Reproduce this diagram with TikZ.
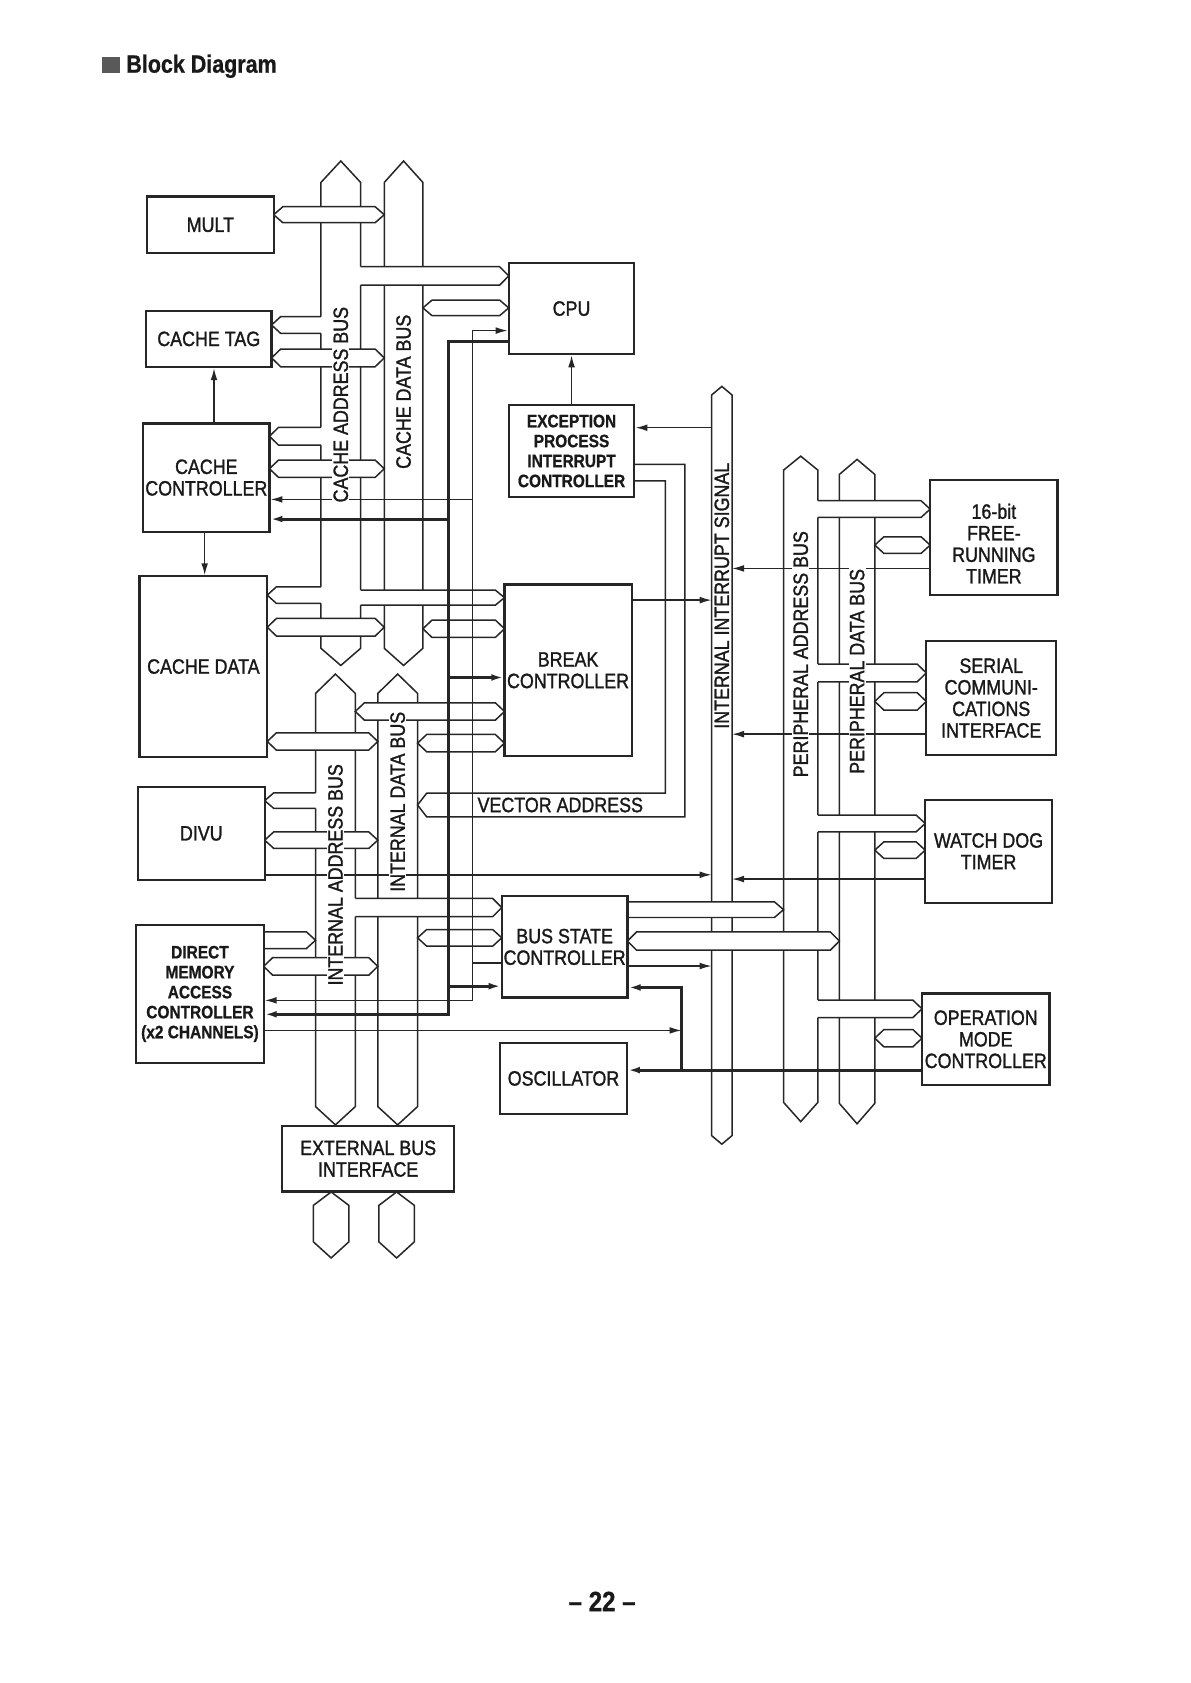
\documentclass[tikz,border=0pt]{standalone}
\usepackage{fontspec}
\setmainfont{Liberation Sans}[FakeStretch=0.86, UprightFeatures={FakeBold=1.3}, BoldFeatures={FakeBold=0.8}]
\usetikzlibrary{arrows.meta,fit}

\tikzset{
  wire/.style={draw=black!85, line width=0.75pt},
  buswall/.style={wire, fill=white},
  sig/.style={draw=black!85, line width=0.75pt},
  bsig/.style={draw=black!85, line width=1.5pt},
  blk/.style={draw=black!85, line width=1.1pt, fill=white, inner sep=0pt},
  blkt/.style={align=center, inner sep=0pt, text=black!90, font=\fontsize{10.4}{10.8}\selectfont},
  blktb/.style={blkt, font=\bfseries\fontsize{9}{10}\selectfont},
  buslbl/.style={rotate=90, fill=white, inner sep=0.6pt, text=black!90,
    font=\fontsize{10.4}{12}\selectfont},
}

\def\tipd{8.5}
% vertical bus: xl, xr, top tip, top shoulder, bottom shoulder, bottom tip
\newcommand{\busv}[6]{%
  \draw[buswall] (#1,#4) -- ({(#1+#2)/2},#3) -- (#2,#4) -- (#2,#5) -- ({(#1+#2)/2},#6) -- (#1,#5) -- cycle;}
% branch, open on the left (bus), tip on the right: x1, x2, ytop, ybottom
\newcommand{\brR}[4]{%
  \fill[white] ({#1-2},#3) -- ({#2-\tipd},#3) -- (#2,{(#3+#4)/2}) -- ({#2-\tipd},#4) -- ({#1-2},#4) -- cycle;
  \draw[wire] (#1,#3) -- ({#2-\tipd},#3) -- (#2,{(#3+#4)/2}) -- ({#2-\tipd},#4) -- (#1,#4);}
% branch, tip on the left, open on the right (bus)
\newcommand{\brL}[4]{%
  \fill[white] (#1,{(#3+#4)/2}) -- ({#1+\tipd},#3) -- ({#2+2},#3) -- ({#2+2},#4) -- ({#1+\tipd},#4) -- cycle;
  \draw[wire] (#2,#3) -- ({#1+\tipd},#3) -- (#1,{(#3+#4)/2}) -- ({#1+\tipd},#4) -- (#2,#4);}
% branch with tips on both ends
\newcommand{\brD}[4]{%
  \draw[wire, fill=white] (#1,{(#3+#4)/2}) -- ({#1+\tipd},#3) -- ({#2-\tipd},#3) -- (#2,{(#3+#4)/2})
    -- ({#2-\tipd},#4) -- ({#1+\tipd},#4) -- cycle;}

\begin{document}
\begin{tikzpicture}[x=0.5376pt, y=-0.5376pt, >={Latex[length=6pt,width=3.4pt]}]
\useasboundingbox (0,0) rectangle (1109,1568);

% title
\node[fill=black!65, inner sep=0pt, minimum width=9.2pt, minimum height=7.7pt] (mark) at (103.3,60.5) {};
\node[anchor=base west, inner sep=0pt, text=black!90, font=\bfseries\fontsize{12.5}{14}\selectfont] (title) at (117.4,67.7) {Block Diagram};

% buses
\busv{299}{336}{150}{170}{604}{620}
\busv{358}{394}{150}{170}{604}{620}
\busv{294}{331}{628}{646}{1031}{1048}
\busv{352}{389}{628}{646}{1031}{1048}
\busv{292}{325}{1110.5}{1123}{1157}{1172}
\busv{353}{386}{1110.5}{1123}{1157}{1172}
\busv{663}{682}{360}{368}{1058}{1066}
\busv{730}{762}{425}{438}{1027}{1045}
\busv{782}{815}{428}{442}{1028}{1047}

% branches, left column
\brD{255}{358}{192.6}{207.5}
\brL{253}{299}{295}{310.6}
\brD{253}{358}{325.2}{341.7}
\brL{251}{299}{398.2}{414.7}
\brD{251}{358}{428.6}{444.8}
\brL{249}{299}{546.7}{562.2}
\brD{249}{358}{576.2}{592.6}
\brD{249}{352}{682.7}{698.9}
\brL{246.6}{294}{738.6}{753.2}
\brD{246.6}{352}{775}{790.5}
\brR{245.6}{294}{868.2}{883.7}
\brD{245.6}{352}{892.1}{908.6}

% branches, middle column
\brR{336}{474}{248.5}{265.6}
\brD{394}{474}{279.6}{294.1}
\brR{336}{470}{549.8}{563.8}
\brD{394}{470}{577.7}{593.9}
\brD{331}{470}{654.8}{670.9}
\brD{389}{470}{684.3}{700.4}
\brR{331}{467.5}{837}{854}
\brD{389}{467.5}{866}{881.5}

% branches, peripheral buses
\brR{584.6}{730}{840.2}{854.8}
\brD{584.6}{782}{868.2}{885.3}
\brR{762}{866.6}{466.5}{482.1}
\brD{815}{866.6}{500.1}{515.6}
\brR{762}{863}{618.7}{635.2}
\brD{815}{863}{645.4}{661.6}
\brR{762}{862}{759.4}{775}
\brD{815}{862}{784.3}{799.8}
\brR{762}{859}{931.8}{948}
\brD{815}{859}{959.2}{975.3}

% vector address
\fill[white] (591,432.6) -- (638,432.6) -- (638,761) -- (397.5,761) -- (389,750) -- (397.5,739)
  -- (620,739) -- (620,448) -- (591,448) -- cycle;
\draw[wire] (591,432.6) -- (638,432.6) -- (638,761) -- (397.5,761) -- (389,750) -- (397.5,739)
  -- (620,739) -- (620,448) -- (591,448);
\node[blkt] (valbl) at (522,750) {VECTOR ADDRESS};

% blocks
\node[blk, fit={(137,183) (255,236)}, label={[blkt]center:MULT}] (mult) {};
\node[blk, fit={(136,289.5) (253,342)}, label={[blkt]center:CACHE TAG}] (ctag) {};
\node[blk, fit={(133.5,394.5) (251,495.4)}, label={[blkt]center:{CACHE\\CONTROLLER}}] (cctrl) {};
\node[blk, fit={(130,537) (249,705)}, label={[blkt]center:CACHE DATA}] (cdata) {};
\node[blk, fit={(128.5,733) (246.6,820)}, label={[blkt]center:DIVU}] (divu) {};
\node[blk, fit={(127,862) (245.6,990)},
  label={[blktb]center:{DIRECT\\MEMORY\\ACCESS\\CONTROLLER\\(x2 CHANNELS)}}] (dmac) {};
\node[blk, fit={(474,245) (591,330)}, label={[blkt]center:CPU}] (cpu) {};
\node[blk, fit={(474,377.4) (591,463)},
  label={[blktb]center:{EXCEPTION\\PROCESS\\INTERRUPT\\CONTROLLER}}] (exc) {};
\node[blk, fit={(470,544.5) (588.5,704.5)}, label={[blkt]center:{BREAK\\CONTROLLER}}] (brk) {};
\node[blk, fit={(467.5,835) (584.6,929.4)}, label={[blkt]center:{BUS STATE\\CONTROLLER}}] (bsc) {};
\node[blk, fit={(466,972) (584,1037.5)}, label={[blkt]center:OSCILLATOR}] (osc) {};
\node[blk, fit={(263,1049) (423,1110)}, label={[blkt]center:{EXTERNAL BUS\\INTERFACE}}] (ebi) {};
\node[blk, fit={(866.6,447.3) (985.3,554.4)},
  label={[blkt, yshift=-3pt]center:{16-bit\\FREE-\\RUNNING\\TIMER}}] (frt) {};
\node[blk, fit={(863,597.3) (984,703.5)},
  label={[blkt]center:{SERIAL\\COMMUNI-\\CATIONS\\INTERFACE}}] (sci) {};
\node[blk, fit={(862,745) (980,841)}, label={[blkt]center:{WATCH DOG\\TIMER}}] (wdt) {};
\node[blk, fit={(859,925.6) (977.8,1011)},
  label={[blkt]center:{OPERATION\\MODE\\CONTROLLER}}] (omc) {};

% interrupt bus walls
\coordinate (isL) at (663,0);
\coordinate (isR) at (682,0);

% signals
\draw[sig,->] (exc.north) -- (exc.north |- cpu.south);
\draw[sig,->] (199.4,0 |- cctrl.north) -- (199.4,0 |- ctag.south);
\draw[sig,->] (190.7,0 |- cctrl.south) -- (190.7,0 |- cdata.north);
\draw[sig,<->] (dmac.east |- 0,932) -- (440,932) -- (440,308) -- (cpu.west |- 0,308);
\draw[sig,->] (440,465.3) -- (cctrl.east |- 0,465.3);
\draw[sig] (440,897) -- (bsc.west |- 0,897);
\draw[bsig,->] (cpu.west |- 0,318.4) -- (418,318.4) -- (418,945) -- (dmac.east |- 0,945);
\draw[bsig,->] (418,483.6) -- (cctrl.east |- 0,483.6);
\draw[bsig,->] (418,631.2) -- (brk.west |- 0,631.2);
\draw[bsig,->] (418,918.8) -- (bsc.west |- 0,918.8);
\draw[sig,->] (isL |- 0,398.5) -- (exc.east |- 0,398.5);
\draw[sig,->] (brk.east |- 0,559.1) -- (isL |- 0,559.1);
\draw[sig,->] (divu.east |- 0,815) -- (isL |- 0,815);
\draw[sig,->] (bsc.east |- 0,900) -- (isL |- 0,900);
\draw[sig,->] (frt.west |- 0,529.6) -- (isR |- 0,529.6);
\draw[sig,->] (sci.west |- 0,684) -- (isR |- 0,684);
\draw[sig,->] (wdt.west |- 0,819) -- (isR |- 0,819);
\draw[bsig,->] (omc.west |- 0,997) -- (osc.east |- 0,997);
\draw[bsig,->] (635,997) -- (635,920) -- (bsc.east |- 0,920);
\draw[sig,->] (dmac.east |- 0,960) -- (635,960);

% bus labels
\node[buslbl] (cablbl) at (317.5,377) {CACHE ADDRESS BUS};
\node[buslbl] (cdblbl) at (376,365) {CACHE DATA BUS};
\node[buslbl] (iablbl) at (312.5,815) {INTERNAL ADDRESS BUS};
\node[buslbl] (idblbl) at (370.5,747) {INTERNAL DATA BUS};
\node[buslbl] (isiglbl) at (672.5,555) {INTERNAL INTERRUPT SIGNAL};
\node[buslbl] (pablbl) at (746,609.5) {PERIPHERAL ADDRESS BUS};
\node[buslbl] (pdblbl) at (798.5,625.5) {PERIPHERAL DATA BUS};

% page number
\node[text=black!90, font=\bfseries\fontsize{14}{16}\selectfont] (pageno) at (561,1492) {– 22 –};
\end{tikzpicture}
\end{document}
